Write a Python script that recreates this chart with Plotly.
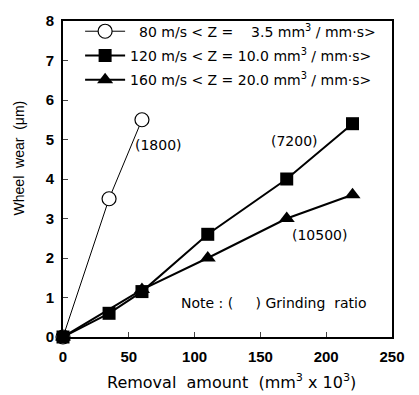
import plotly.graph_objects as go

# Data
x_80 = [0, 35, 60]
y_80 = [0, 3.5, 5.5]
x_120 = [0, 35, 60, 110, 170, 220]
y_120 = [0, 0.6, 1.15, 2.6, 4.0, 5.4]
x_160 = [0, 60, 110, 170, 220]
y_160 = [0, 1.2, 2.0, 3.0, 3.6]

NB = "\u00a0"
names = [
    NB * 2 + "80 m/s < Z =" + NB * 4 + "3.5 mm<sup>3</sup> / mm\u00b7s>",
    "120 m/s < Z = 10.0 mm<sup>3</sup> / mm\u00b7s>",
    "160 m/s < Z = 20.0 mm<sup>3</sup> / mm\u00b7s>",
]
ratio_labels = ["(1800)", "(7200)", "(10500)"]
ratio_pos = [(72.7, 4.85), (176.2, 4.97), (195.2, 2.58)]
note_text = "Note : (" + NB * 5 + ") Grinding" + NB * 2 + "ratio"
note_pos = (160.2, 0.87)
x_ticks = [0, 50, 100, 150, 200, 250]
y_ticks = [0, 1, 2, 3, 4, 5, 6, 7, 8]
x_title = "Removal" + NB * 2 + "amount" + NB * 2 + "(mm<sup>3</sup> x 10<sup>3</sup>)"
y_title = "Wheel" + NB * 2 + "wear" + NB * 2 + "(\u03bcm)"

SANS = "Liberation Sans, Arial, sans-serif"
WIDE = "DejaVu Sans, sans-serif"

fig = go.Figure()
fig.add_trace(go.Scatter(
    x=x_80, y=y_80, mode="lines+markers", name=names[0], legendgroup="a",
    line=dict(color="black", width=1),
    marker=dict(symbol="circle", size=14, color="white", line=dict(color="black", width=1.2)),
    cliponaxis=False))
fig.add_trace(go.Scatter(
    x=x_120, y=y_120, mode="lines+markers", name=names[1], legendgroup="b",
    line=dict(color="black", width=2),
    marker=dict(symbol="square", size=13, color="black"),
    cliponaxis=False))
fig.add_trace(go.Scatter(
    x=x_160, y=y_160, mode="lines+markers", name=names[2], legendgroup="c",
    line=dict(color="black", width=2),
    marker=dict(symbol="triangle-up", size=14, color="black"),
    cliponaxis=False))

for lab, (ax, ay) in zip(ratio_labels, ratio_pos):
    fig.add_annotation(x=ax, y=ay, text=lab, showarrow=False,
                       font=dict(size=14, color="black", family=WIDE))
fig.add_annotation(x=note_pos[0], y=note_pos[1], text=note_text, showarrow=False,
                   font=dict(size=14, color="black", family=WIDE))

# axis titles
fig.add_annotation(xref="paper", yref="paper", x=0.511, y=-0.14, text=x_title,
                   showarrow=False, xanchor="center", yanchor="middle",
                   font=dict(size=16, color="black", family=WIDE))
fig.add_annotation(xref="paper", yref="paper", x=-0.134, y=0.568, text=y_title,
                   showarrow=False, textangle=-90, xanchor="center", yanchor="middle",
                   font=dict(size=14, color="black", family=SANS))

fig.update_layout(
    width=419, height=395,
    margin=dict(l=63, r=27, t=15, b=58),
    paper_bgcolor="white", plot_bgcolor="white",
    font=dict(family=SANS, color="black", size=12),
    showlegend=True,
    legend=dict(x=0.052, y=1.017, xanchor="left", yanchor="top",
                bgcolor="rgba(0,0,0,0)", borderwidth=0, itemwidth=40,
                tracegroupgap=3, font=dict(size=14, family=WIDE, color="black")),
)
fig.update_xaxes(
    range=[0, 250], tickvals=x_ticks, ticks="inside", ticklen=5, tickwidth=1,
    showline=True, linecolor="black", linewidth=1.8, mirror=True,
    showgrid=False, zeroline=False, ticklabelstandoff=5,
    tickfont=dict(size=15, family=SANS, color="black", weight="bold"),
)
fig.update_yaxes(
    range=[0, 8], tickvals=y_ticks, ticks="inside", ticklen=5, tickwidth=1,
    showline=True, linecolor="black", linewidth=1.8, mirror=True,
    showgrid=False, zeroline=False, ticklabelstandoff=4,
    tickfont=dict(size=15, family=SANS, color="black", weight="bold"),
)

fig.write_html("out.html")
